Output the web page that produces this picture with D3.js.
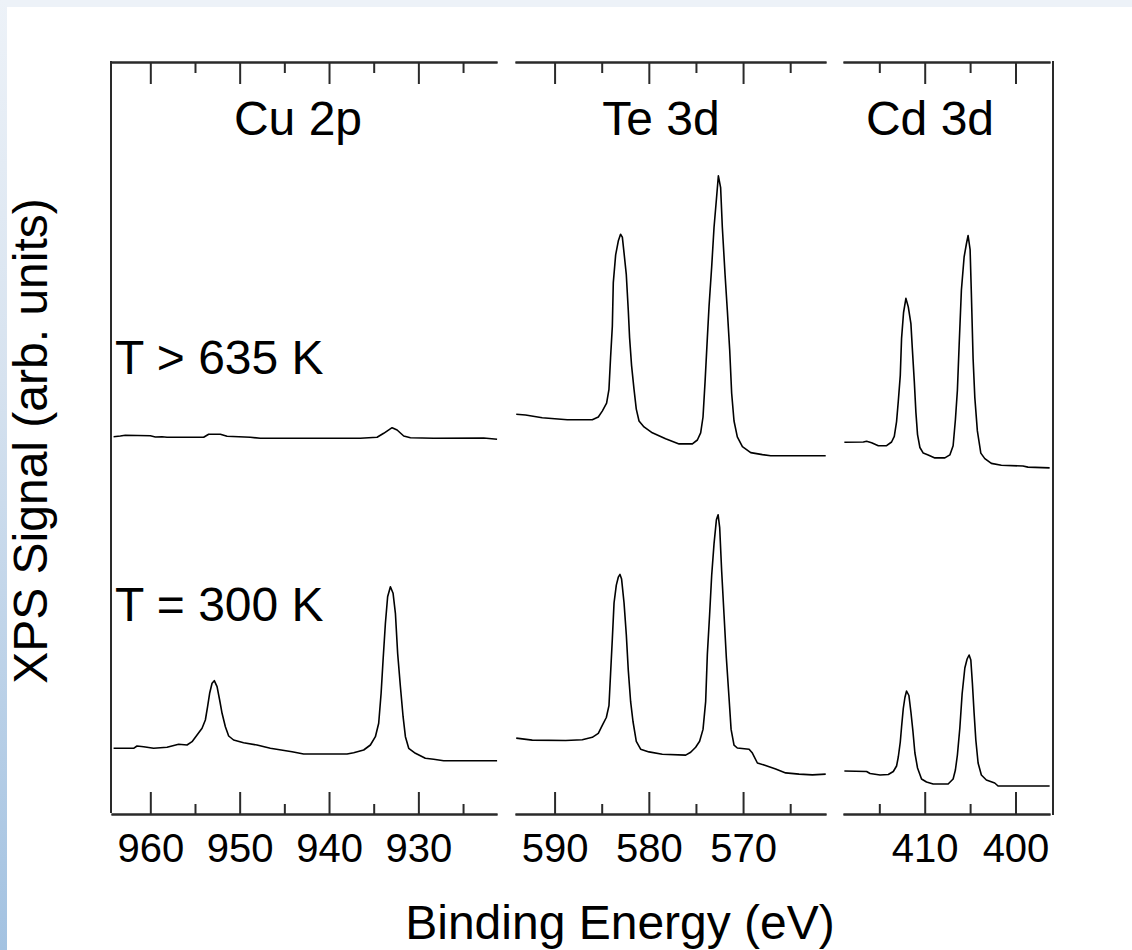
<!DOCTYPE html>
<html><head><meta charset="utf-8">
<script src="https://cdn.jsdelivr.net/npm/d3@7"></script>
<style>html,body{margin:0;padding:0;background:#fff;}svg{display:block;}</style>
</head><body>
<script>
// ---- Data (binding energy eV, signal arb. units) ----
const panelTitles = ["Cu 2p", "Te 3d", "Cd 3d"];
const tempLabels = ["T > 635 K", "T = 300 K"];
const cuMajorTicks = [960, 950, 940, 930];
const cuMinorTicks = [955, 945, 935, 925];
const teMajorTicks = [590, 580, 570];
const teMinorTicks = [585, 575, 565];
const cdMajorTicks = [410, 400];
const cdMinorTicks = [415, 405];

const cuHot = [[964.11,377.3],[963.36,378],[962.8,378.7],[960,378.3],[959.44,377],[958.69,377.3],[958.13,376.7],[954.03,376.7],[953.47,379.7],[952.16,379.7],[951.41,377.7],[948.81,376.7],[947.69,375.7],[941.72,375.7],[936.5,375.7],[934.62,376.7],[933.88,380.7],[932.94,386.3],[932.38,384],[931.64,378],[930.89,376.3],[928.29,375.7],[922.69,376],[921.19,374.7]];
const cuRT = [[964.11,65.7],[961.87,65.7],[961.49,68],[960.75,67.3],[959.63,65.7],[958.13,66.7],[956.83,69.7],[955.89,69],[955.33,72.3],[954.77,79],[954.21,85.7],[953.84,94],[953.59,107.3],[953.36,120.7],[953.09,130.7],[952.84,133.3],[952.53,127.3],[952.24,114],[951.97,100.7],[951.6,87.3],[951.23,78],[950.68,74],[949.56,71.3],[948.06,69],[946.57,65.7],[944.14,62.3],[942.84,60],[937.98,60],[937.24,61.3],[936.12,64],[935.37,69],[934.81,77.3],[934.44,90.7],[934.17,120.7],[933.95,154],[933.69,190.7],[933.44,217.3],[933.13,227.3],[932.83,220.7],[932.57,200.7],[932.32,160.7],[932.01,127.3],[931.71,97.3],[931.45,77.3],[931.08,65.7],[930.33,60.7],[929.22,55.7],[928.29,54.7],[927.17,53.3],[921.19,53.3]];
const teHot = [[594.07,399.8],[593.08,399],[591.31,396.2],[588.65,394.2],[586.0,394.2],[585.36,397],[584.94,402.9],[584.48,410.8],[584.23,424.7],[584.06,456.3],[583.87,488],[583.77,531.4],[583.52,559.1],[583.24,572.9],[583.0,579.7],[582.81,576.9],[582.63,561.1],[582.39,539.3],[582.18,503.7],[582.04,476.1],[581.83,448.4],[581.57,424.7],[581.33,404.9],[581.04,393],[580.51,387.1],[579.63,381.2],[578.22,375.2],[576.79,370.1],[575.38,370.1],[574.85,374],[574.5,381.2],[574.25,397],[574.03,432.6],[573.79,476.1],[573.61,507.7],[573.33,547.2],[573.08,586.8],[572.83,614.5],[572.62,638.2],[572.38,626.3],[572.2,586.8],[571.91,539.3],[571.67,503.7],[571.42,464.2],[571.21,420.7],[570.96,393],[570.61,377.2],[570.07,367.3],[569.19,361.4],[567.95,359.4],[567.07,358.2],[561.23,358.2]];
const teRT = [[594.07,75.9],[592.37,73.9],[588.83,73.5],[587.06,74.3],[586.0,76.7],[585.36,80.6],[584.94,88.6],[584.51,96.5],[584.23,108.3],[584.06,140],[583.87,175.5],[583.69,211.1],[583.45,228.9],[583.24,236.8],[583.06,239.6],[582.89,234.9],[582.63,211.1],[582.39,179.5],[582.18,143.9],[581.93,112.3],[581.68,92.5],[581.33,72.7],[580.87,64.8],[579.98,62.1],[578.57,59.7],[576.09,58.9],[575.56,61.7],[575.03,66.8],[574.61,72.7],[574.25,84.6],[573.97,112.3],[573.79,159.7],[573.55,199.3],[573.33,238.8],[573.08,270.4],[572.83,294.2],[572.65,299.3],[572.48,286.3],[572.27,242.8],[572.02,199.3],[571.77,155.8],[571.49,116.2],[571.27,84.6],[570.96,68.8],[570.61,66],[569.36,64.8],[569.01,60.9],[568.48,51],[567.77,49],[566.54,45.1],[565.48,41.1],[564.06,39.9],[562.64,39.1],[561.23,39.9]];
const cdHot = [[418.85,371.7],[416.76,372],[416.4,372.8],[415.85,371.3],[415.11,368.3],[414.2,368.3],[413.65,372],[413.35,377.6],[413.1,392.4],[412.91,412.7],[412.69,438.6],[412.55,475.6],[412.33,501.5],[412.07,515.6],[411.81,507.1],[411.52,490.4],[411.37,466.4],[411.15,433.1],[410.97,401.6],[410.79,379.4],[410.53,366.5],[410.16,360.9],[409.62,359.1],[408.88,356.1],[407.78,356.1],[407.23,359.1],[406.87,368.3],[406.62,394.2],[406.4,423.8],[406.21,468.2],[405.96,523.7],[405.66,557],[405.41,570],[405.22,578.5],[405.0,564.4],[404.86,520],[404.67,455.3],[404.48,416.4],[404.2,383.1],[403.82,360.9],[403.38,355.4],[402.66,350.6],[401.56,348.7],[399.18,348],[398.63,346.9],[396.24,346.1]];
const cdRT = [[418.85,43],[416.4,42.5],[416.02,40.5],[414.92,39],[414.01,39.5],[413.46,42.5],[413.1,48],[412.91,57],[412.69,72],[412.55,87],[412.36,105.5],[412.18,116.5],[412.0,123],[411.74,118.5],[411.52,102],[411.3,83],[411.08,61],[410.79,46],[410.35,35],[409.8,32],[409.07,30],[407.42,30],[406.87,35],[406.62,44],[406.4,59],[406.13,86],[405.88,120],[405.58,146],[405.33,155],[405.11,159],[404.92,154],[404.75,131],[404.56,101],[404.37,74],[404.12,51],[403.76,39],[403.21,34],[402.29,31],[401.92,28],[396.24,28]];

// ---- Layout ----
const W = 1132, H = 950;
const plotTop = 62, plotBottom = 814;
const FONT = "'Liberation Sans', Arial, Helvetica, sans-serif";
const AX = "#2a2a2a";

const panels = [
  {title: panelTitles[0], domain: [964.4, 921.2], range: [111, 497], major: cuMajorTicks, minor: cuMinorTicks, series: [cuHot, cuRT], tx: 298},
  {title: panelTitles[1], domain: [594.2, 561.2], range: [515, 826], major: teMajorTicks, minor: teMinorTicks, series: [teHot, teRT], tx: 661},
  {title: panelTitles[2], domain: [419.0, 396.2], range: [843, 1050], major: cdMajorTicks, minor: cdMinorTicks, series: [cdHot, cdRT], tx: 930}
];

const svg = d3.select("body").append("svg").attr("width", W).attr("height", H);
const defs = svg.append("defs");
const grad = defs.append("linearGradient").attr("id", "edge").attr("x1", 0).attr("y1", 0).attr("x2", 0).attr("y2", 1);
grad.append("stop").attr("offset", "0%").attr("stop-color", "#edf2f8");
grad.append("stop").attr("offset", "40%").attr("stop-color", "#d6e2ef");
grad.append("stop").attr("offset", "100%").attr("stop-color", "#a3c2e1");

svg.append("rect").attr("width", W).attr("height", H).attr("fill", "#fff");
svg.append("rect").attr("x", 0).attr("y", 0).attr("width", W).attr("height", 7).attr("fill", "#edf2f8");
svg.append("rect").attr("x", 0).attr("y", 0).attr("width", 7).attr("height", H).attr("fill", "url(#edge)");

const yScale = d3.scaleLinear().domain([0, 752]).range([plotBottom, plotTop]);

panels.forEach(p => {
  const x = d3.scaleLinear().domain(p.domain).range(p.range);
  const g = svg.append("g");

  const topMajor = g.append("g").attr("transform", `translate(0,${plotTop})`)
    .call(d3.axisTop(x).tickValues(p.major).tickSizeInner(-22).tickSizeOuter(0).tickFormat(""));
  const topMinor = g.append("g").attr("transform", `translate(0,${plotTop})`)
    .call(d3.axisTop(x).tickValues(p.minor).tickSizeInner(-11).tickSizeOuter(0).tickFormat(""));
  const botMajor = g.append("g").attr("transform", `translate(0,${plotBottom})`)
    .call(d3.axisBottom(x).tickValues(p.major).tickSizeInner(-22).tickSizeOuter(0).tickPadding(20).tickFormat(d3.format("d")));
  const botMinor = g.append("g").attr("transform", `translate(0,${plotBottom})`)
    .call(d3.axisBottom(x).tickValues(p.minor).tickSizeInner(-10).tickSizeOuter(0).tickFormat(""));

  [topMajor, topMinor, botMajor, botMinor].forEach(a => {
    a.select(".domain").attr("stroke", AX).attr("stroke-width", 2);
    a.selectAll(".tick line").attr("stroke", AX).attr("stroke-width", 2);
  });
  botMajor.selectAll(".tick text").attr("font-family", FONT).attr("font-size", 40).attr("fill", "#000");

  g.append("text").attr("x", p.tx).attr("y", 135).attr("text-anchor", "middle")
    .attr("font-family", FONT).attr("font-size", 48).attr("fill", "#000").text(p.title);

  const line = d3.line().x(d => x(d[0])).y(d => yScale(d[1]));
  p.series.forEach(s => {
    g.append("path").datum(s).attr("d", line).attr("fill", "none")
      .attr("stroke", "#000").attr("stroke-width", 1.6).attr("stroke-linejoin", "round");
  });
});

svg.append("line").attr("x1", 111).attr("x2", 111).attr("y1", plotTop - 1).attr("y2", plotBottom - 1).attr("stroke", AX).attr("stroke-width", 2);
svg.append("line").attr("x1", 1053).attr("x2", 1053).attr("y1", plotTop - 1).attr("y2", plotBottom + 1).attr("stroke", AX).attr("stroke-width", 2);

svg.append("text").attr("x", 115).attr("y", 374).attr("font-family", FONT).attr("font-size", 48).attr("fill", "#000").text(tempLabels[0]);
svg.append("text").attr("x", 115).attr("y", 621).attr("font-family", FONT).attr("font-size", 48).attr("fill", "#000").text(tempLabels[1]);

svg.append("text").attr("x", 620).attr("y", 939).attr("text-anchor", "middle")
  .attr("font-family", FONT).attr("font-size", 48).attr("fill", "#000").text("Binding Energy (eV)");
svg.append("text").attr("transform", "translate(47,441) rotate(-90)").attr("text-anchor", "middle")
  .attr("font-family", FONT).attr("font-size", 48).attr("fill", "#000").text("XPS Signal (arb. units)");
</script>
</body></html>
